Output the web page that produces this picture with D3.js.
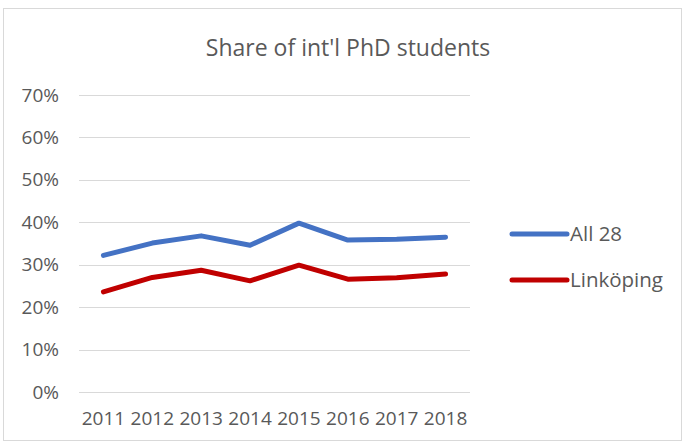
<!DOCTYPE html>
<html>
<head>
<meta charset="utf-8">
<script src="https://cdn.jsdelivr.net/npm/d3@7"></script>
<style>
  body { margin: 0; background: #fff; }
  svg { display: block; font-family: "Open Sans", "Noto Sans", sans-serif; }
</style>
</head>
<body>
<svg id="chart" width="685" height="443"></svg>
<script>
const years = ['2011', '2012', '2013', '2014', '2015', '2016', '2017', '2018'];
const all28 = [0.322, 0.351, 0.368, 0.346, 0.398, 0.358, 0.360, 0.365];
const linkoping = [0.236, 0.270, 0.287, 0.262, 0.299, 0.266, 0.269, 0.278];
const yTicks = [0, 0.1, 0.2, 0.3, 0.4, 0.5, 0.6, 0.7];
const seriesNames = ['All 28', 'Linköping'];
const colors = ['#4472C4', '#C00000'];

const margin = { top: 95, right: 215, bottom: 51, left: 79 };
const width = 685, height = 443;
const chartW = width - margin.left - margin.right;
const chartH = height - margin.top - margin.bottom;

const svg = d3.select('#chart');

// chart frame
svg.append('rect')
  .attr('x', 3.5).attr('y', 8.5)
  .attr('width', 678).attr('height', 432)
  .attr('fill', '#fff')
  .attr('stroke', '#d9d9d9');

svg.append('text')
  .attr('x', 348).attr('y', 56)
  .attr('text-anchor', 'middle')
  .attr('fill', '#595959')
  .attr('font-size', 23)
  .text("Share of int'l PhD students");

const g = svg.append('g').attr('transform', `translate(${margin.left},${margin.top})`);

const x = d3.scaleBand().domain(years).range([0, chartW]);
const y = d3.scaleLinear().domain([0, 0.7]).range([chartH, 0]);

// gridlines
g.append('g')
  .selectAll('line')
  .data(yTicks)
  .join('line')
  .attr('x1', 0).attr('x2', chartW)
  .attr('y1', d => Math.round(y(d)) + 0.5)
  .attr('y2', d => Math.round(y(d)) + 0.5)
  .attr('stroke', '#d9d9d9')
  .attr('stroke-width', 1);

// y axis labels
const yAxis = g.append('g')
  .call(d3.axisLeft(y).tickValues(yTicks).tickFormat(d3.format('.0%')).tickSize(0).tickPadding(20));
yAxis.attr('font-family', null).attr('font-size', 19);
yAxis.select('.domain').remove();
yAxis.selectAll('text').attr('fill', '#595959');

// x axis labels
const xAxis = g.append('g')
  .attr('transform', `translate(0,${chartH})`)
  .call(d3.axisBottom(x).tickSize(0).tickPadding(20));
xAxis.attr('font-family', null).attr('font-size', 19);
xAxis.select('.domain').remove();
xAxis.selectAll('text').attr('fill', '#595959');

const line = d3.line()
  .x((d, i) => x(years[i]) + x.bandwidth() / 2)
  .y(d => y(d));

[all28, linkoping].forEach((vals, k) => {
  g.append('path')
    .datum(vals)
    .attr('d', line)
    .attr('fill', 'none')
    .attr('stroke', colors[k])
    .attr('stroke-width', 5)
    .attr('stroke-linecap', 'round')
    .attr('stroke-linejoin', 'round');
});

// legend
const legend = svg.append('g').attr('transform', 'translate(512,234)');
seriesNames.forEach((name, k) => {
  const row = legend.append('g').attr('transform', `translate(0,${k * 46})`);
  row.append('line')
    .attr('x1', 0).attr('x2', 55)
    .attr('stroke', colors[k])
    .attr('stroke-width', 5)
    .attr('stroke-linecap', 'round');
  row.append('text')
    .attr('x', 58).attr('y', 7)
    .attr('fill', '#595959')
    .attr('font-size', 20.5)
    .text(name);
});
</script>
</body>
</html>
